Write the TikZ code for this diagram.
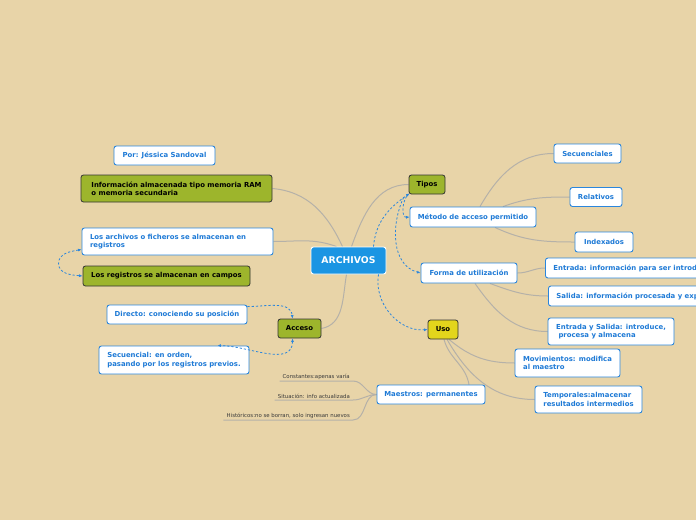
\documentclass[tikz,border=0pt]{standalone}
\usepackage{fontspec}
\setmainfont{DejaVu Sans}
\usetikzlibrary{arrows.meta,calc}
\pgfdeclarelayer{back}
\pgfsetlayers{back,main}
\definecolor{bg}{HTML}{E8D4A8}
\definecolor{olive}{HTML}{9DB52C}
\definecolor{bluef}{HTML}{1B95E3}
\definecolor{blued}{HTML}{2B86DC}
\definecolor{bluet}{HTML}{1E7AD6}
\definecolor{yel}{HTML}{E3D51C}
\definecolor{connc}{HTML}{B5B1A8}
\definecolor{labc}{HTML}{3A3A3A}
\tikzset{
  box/.style={rounded corners=2.5pt, font=\bfseries\fontsize{6.9}{8.4}\selectfont, inner sep=0pt, align=left},
  wbox/.style={box, draw=blued, line width=0.9pt, fill=white, text=bluet},
  gbox/.style={box, draw=black!80, line width=0.8pt, fill=olive, text=black},
  ybox/.style={box, draw=black!80, line width=0.8pt, fill=yel, text=black},
  cbox/.style={box, draw=white, line width=0.9pt, fill=bluef, text=white, font=\bfseries\fontsize{9.3}{10}\selectfont},
  conn/.style={draw=connc, line width=1pt},
  rel/.style={draw=blued, line width=0.8pt, dashed, dash pattern=on 2.2pt off 2pt, -{Latex[length=3.5pt,width=3pt]}},
  lab/.style={font=\fontsize{5.4}{6}\selectfont, text=labc, inner xsep=3pt, inner ysep=1.6pt}
}
\begin{document}
\begin{tikzpicture}[x=1pt,y=1pt]
\useasboundingbox (0,0) rectangle (696,-520);
\clip (0,0) rectangle (696,-520);
% nodes
\node[cbox, minimum width=75pt, minimum height=27pt] (archivos) at (348.5,-260.5) {ARCHIVOS};
\node[wbox, minimum width=101pt, minimum height=19pt] (por) at (164.5,-155.5) {Por: Jéssica Sandoval};
\node[gbox, minimum width=191pt, minimum height=27pt] (info) at (176.5,-188.5) {Información almacenada tipo memoria RAM\\o memoria secundaria};
\node[wbox, minimum width=191pt, minimum height=27pt, text width=175pt] (losarch) at (177.5,-241.5) {Los archivos o ficheros se almacenan en\\registros};
\node[gbox, minimum width=167pt, minimum height=20pt] (losreg) at (166.5,-276) {Los registros se almacenan en campos};
\node[wbox, minimum width=140pt, minimum height=19pt] (directo) at (177,-314.5) {Directo: conociendo su posición};
\node[wbox, minimum width=150pt, minimum height=28pt] (secuencial) at (174,-360) {Secuencial: en orden,\\pasando por los registros previos.};
\node[gbox, minimum width=43pt, minimum height=19pt] (acceso) at (299.5,-328.5) {Acceso};
\node[gbox, minimum width=36pt, minimum height=19pt] (tipos) at (427,-184.5) {Tipos};
\node[wbox, minimum width=126pt, minimum height=20pt] (metodo) at (473,-217) {Método de acceso permitido};
\node[wbox, minimum width=67pt, minimum height=19pt] (secuenciales) at (587.5,-153.5) {Secuenciales};
\node[wbox, minimum width=52pt, minimum height=19pt] (relativos) at (596,-197) {Relativos};
\node[wbox, minimum width=58pt, minimum height=20pt] (indexados) at (604,-242) {Indexados};
\node[wbox, minimum width=96pt, minimum height=20pt] (forma) at (469,-273) {Forma de utilización};
\node[wbox, minimum height=20pt, inner xsep=8pt, anchor=west] (entrada) at (545,-268) {Entrada: información para ser introducida};
\node[wbox, minimum height=20pt, inner xsep=8pt, anchor=west] (salida) at (548,-296) {Salida: información procesada y expulsada};
\node[wbox, minimum width=126pt, minimum height=27pt] (entsal) at (611,-331.5) {Entrada y Salida: introduce,\\\ procesa y almacena};
\node[ybox, minimum width=30pt, minimum height=19pt] (uso) at (443,-329.5) {Uso};
\node[wbox, minimum width=105pt, minimum height=28pt] (movim) at (567.5,-363) {Movimientos: modifica\\al maestro};
\node[wbox, minimum width=107pt, minimum height=27pt] (temp) at (588.5,-399.5) {Temporales:almacenar\\resultados intermedios};
\node[wbox, minimum width=108pt, minimum height=19pt] (maestros) at (431,-394.5) {Maestros: permanentes};
\node[lab, anchor=south east] (constantes) at (353,-381) {Constantes:apenas varía};
\node[lab, anchor=south east] (situacion) at (353,-400) {Situación: info actualizada};
\node[lab, anchor=south east] (historicos) at (353,-420) {Históricos:no se borran, solo ingresan nuevos};
\begin{pgfonlayer}{back}
\fill[bg] (0,0) rectangle (696,-520);
% main connectors
\draw[conn] ($(archivos.north)+(-6,0)$) to[out=115,in=-5] (info.east);
\draw[conn] ($(archivos.north west)+(26,0)$) to[out=160,in=0] (losarch.east);
\draw[conn] ($(archivos.south)+(-2,0)$) to[out=-100,in=10] (acceso.east);
\draw[conn] ($(archivos.north)+(3,0)$) to[out=70,in=180] (tipos.west);
\draw[conn] ($(metodo.north)+(7,0)$) to[out=60,in=180] (secuenciales.west);
\draw[conn] ($(metodo.north)+(30,0)$) to[out=20,in=180] (relativos.west);
\draw[conn] ($(metodo.south)+(22,0)$) to[out=-25,in=180] (indexados.west);
\draw[conn] (forma.east) to[out=0,in=180] (entrada.west);
\draw[conn] ($(forma.south)+(21,0)$) to[out=-20,in=180] (salida.west);
\draw[conn] ($(forma.south)+(6,0)$) to[out=-55,in=180] (entsal.west);
\draw[conn] ($(uso.south)+(6,0)$) to[out=-40,in=180] (movim.west);
\draw[conn] ($(uso.south)+(4,0)$) to[out=-60,in=180] (temp.west);
\draw[conn] ($(uso.south)+(1,0)$) to[out=-75,in=100] ($(maestros.north)+(38,0)$);
\draw[conn] (constantes.south west) -- (constantes.south east) to[out=0,in=180] (maestros.west);
\draw[conn] (situacion.south west) -- (situacion.south east) to[out=0,in=180] (maestros.west);
\draw[conn] (historicos.south west) -- (historicos.south east) to[out=0,in=180] (maestros.west);
\end{pgfonlayer}
% relationship arrows
\draw[rel] ($(archivos.north)+(25,0)$) to[out=85,in=215] ($(tipos.south west)+(1,1)$);
\draw[rel] ($(tipos.south west)+(-2,-2)$) to[out=235,in=185] (metodo.west);
\draw[rel] ($(tipos.south west)+(-5,-3)$) to[out=245,in=165] (forma.west);
\draw[rel] ($(archivos.south)+(30,0)$) to[out=-100,in=185] (uso.west);
\draw[rel, {Latex[length=3.5pt,width=3pt]}-{Latex[length=3.5pt,width=3pt]}] ($(losarch.west)+(0,-8)$) to[out=190,in=90] ($(losarch.west)+(-23,-22)$) to[out=-90,in=175] (losreg.west);
\draw[rel] ($(directo.north east)+(0,-2)$) to[out=0,in=95] ($(acceso.north)+(-7,0)$);
\draw[rel, {Latex[length=3.5pt,width=3pt]}-{Latex[length=3.5pt,width=3pt]}] ($(acceso.south)+(-7,0)$) to[out=-90,in=0] ($(secuencial.north east)+(-32,0)$);
\end{tikzpicture}
\end{document}
